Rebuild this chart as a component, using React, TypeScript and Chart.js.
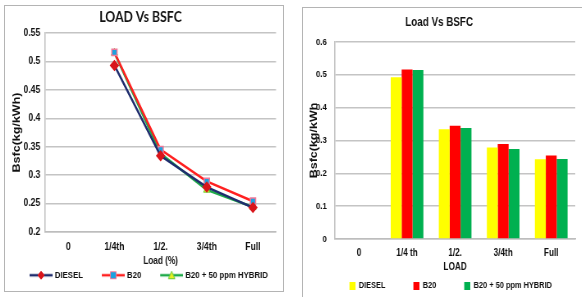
import React, { useEffect, useRef } from "react";
import { Chart, registerables } from "chart.js";

Chart.register(...registerables);

const lineCategories = ["0", "1/4th", "1/2.", "3/4th", "Full"];
const barCategories = ["0", "1/4 th", "1/2.", "3/4th", "Full"];
const seriesNames = ["DIESEL", "B20", "B20 + 50 ppm HYBRID"];
const diesel = [null, 0.493, 0.334, 0.279, 0.243];
const b20 = [null, 0.516, 0.345, 0.289, 0.254];
const hybrid = [null, 0.515, 0.338, 0.274, 0.244];
const lineTicks = { min: 0.2, max: 0.55, step: 0.05 };
const barTicks = { min: 0, max: 0.6, step: 0.1 };

const SX = 0.82; // horizontal squeeze of the reference picture
const FONT = "'Liberation Sans', Arial, sans-serif";
const TEXT = "#111";

const fmt = (v: any) => String(Math.round(Number(v) * 100) / 100);

// legend icon: transparent lead-in, then line + marker
function makeLineIcon(lineColor: string, marker: string, fill: string, stroke: string) {
  const c = document.createElement("canvas");
  c.width = 50;
  c.height = 10;
  const ctx = c.getContext("2d")!;
  ctx.strokeStyle = lineColor;
  ctx.lineWidth = 2.5;
  ctx.beginPath();
  ctx.moveTo(22, 5);
  ctx.lineTo(50, 5);
  ctx.stroke();
  ctx.fillStyle = fill;
  ctx.strokeStyle = stroke;
  ctx.lineWidth = 1;
  ctx.beginPath();
  const cx = 36;
  if (marker === "rectRot") {
    ctx.moveTo(cx, 1);
    ctx.lineTo(cx + 4, 5);
    ctx.lineTo(cx, 9);
    ctx.lineTo(cx - 4, 5);
    ctx.closePath();
  } else if (marker === "rect") {
    ctx.rect(cx - 3.5, 1.5, 7, 7);
  } else {
    ctx.moveTo(cx, 1);
    ctx.lineTo(cx + 4, 8.5);
    ctx.lineTo(cx - 4, 8.5);
    ctx.closePath();
  }
  ctx.fill();
  ctx.stroke();
  return c;
}

function makeBoxIcon(color: string) {
  const c = document.createElement("canvas");
  c.width = 35;
  c.height = 8;
  const ctx = c.getContext("2d")!;
  ctx.fillStyle = color;
  ctx.fillRect(28, 0, 7, 8);
  return c;
}

function LineChart() {
  const ref = useRef<HTMLCanvasElement>(null);
  useEffect(() => {
    const icons = [
      makeLineIcon("#1f2d6e", "rectRot", "#d9151b", "#d9151b"),
      makeLineIcon("#ff2020", "rect", "#1aa3e0", "#f07a9a"),
      makeLineIcon("#1faa4a", "triangle", "#e8f020", "#6acb3a"),
    ];
    const chart = new Chart(ref.current!, {
      type: "line",
      data: {
        labels: lineCategories,
        datasets: [
          {
            label: seriesNames[0],
            data: diesel,
            borderColor: "#1f2d6e",
            backgroundColor: "#d9151b",
            pointBackgroundColor: "#d9151b",
            pointBorderColor: "#d9151b",
            pointStyle: "rectRot",
            pointRadius: 4,
            borderWidth: 2.5,
            tension: 0,
          },
          {
            label: seriesNames[1],
            data: b20,
            borderColor: "#ff2020",
            backgroundColor: "#1aa3e0",
            pointBackgroundColor: "#1aa3e0",
            pointBorderColor: "#f07a9a",
            pointBorderWidth: 1.5,
            pointStyle: "rect",
            pointRadius: 4.5,
            borderWidth: 2.5,
            tension: 0,
          },
          {
            label: seriesNames[2],
            data: hybrid,
            borderColor: "#1faa4a",
            backgroundColor: "#e8f020",
            pointBackgroundColor: "#e8f020",
            pointBorderColor: "#6acb3a",
            pointBorderWidth: 1,
            pointStyle: "triangle",
            pointRadius: 4.5,
            borderWidth: 2.5,
            tension: 0,
          },
        ],
      },
      options: {
        responsive: false,
        animation: false,
        layout: { padding: { left: 0, right: 7.5, top: 2, bottom: 0 } },
        plugins: {
          title: {
            display: true,
            text: "LOAD Vs BSFC",
            color: TEXT,
            font: { family: "Lato, 'Liberation Sans', sans-serif", size: 15, weight: "bold" },
            padding: { top: 0, bottom: 7 },
          },
          legend: {
            position: "bottom",
            labels: {
              usePointStyle: true,
              pointStyleWidth: 46,
              color: TEXT,
              font: { family: FONT, size: 9.5, weight: "bold" },
              padding: 3,
              generateLabels: (ch: any) =>
                ch.data.datasets.map((ds: any, i: number) => ({
                  text: ds.label,
                  pointStyle: icons[i],
                  fillStyle: ds.backgroundColor,
                  strokeStyle: ds.borderColor,
                  lineWidth: 0,
                  hidden: false,
                  datasetIndex: i,
                  fontColor: TEXT,
                })),
            },
          },
          tooltip: { enabled: false },
        },
        scales: {
          x: {
            offset: true,
            afterFit: (s: any) => {
              s.height = 35.5;
            },
            grid: { display: false, drawTicks: false, offset: true },
            border: { color: "#bdbdbd", width: 1.5 },
            ticks: { color: TEXT, font: { family: FONT, size: 10.5, weight: "bold" }, padding: 9 },
            title: {
              display: true,
              text: "Load (%)",
              color: TEXT,
              font: { family: FONT, size: 10, weight: "bold" },
              padding: { top: 0, bottom: 0 },
            },
          },
          y: {
            min: lineTicks.min,
            max: lineTicks.max,
            afterFit: (s: any) => {
              s.width = 49;
            },
            ticks: {
              stepSize: lineTicks.step,
              callback: fmt,
              color: TEXT,
              font: { family: FONT, size: 10.5, weight: "bold" },
              padding: 6,
            },
            grid: { color: "#c4c4c4", lineWidth: 1.5, drawTicks: false },
            border: { color: "#bdbdbd", width: 1.5 },
            title: {
              display: true,
              text: "Bsfc(kg/kWh)",
              color: TEXT,
              font: { family: FONT, size: 12.5, weight: "bold" },
              padding: { top: 7, bottom: 0 },
            },
          },
        },
      },
    });
    return () => chart.destroy();
  }, []);
  return <canvas ref={ref} width={338} height={284} style={{ display: "block" }} />;
}

function BarChart() {
  const ref = useRef<HTMLCanvasElement>(null);
  useEffect(() => {
    const colors = ["#ffff00", "#ff0000", "#00b050"];
    const icons = colors.map(makeBoxIcon);
    const chart = new Chart(ref.current!, {
      type: "bar",
      data: {
        labels: barCategories,
        datasets: [
          { label: seriesNames[0], data: diesel, backgroundColor: colors[0] },
          { label: seriesNames[1], data: b20, backgroundColor: colors[1] },
          { label: seriesNames[2], data: hybrid, backgroundColor: colors[2] },
        ],
      },
      options: {
        responsive: false,
        animation: false,
        datasets: { bar: { categoryPercentage: 0.68, barPercentage: 1 } },
        layout: { padding: { left: 0, right: 8, top: 4, bottom: 0 } },
        plugins: {
          title: {
            display: true,
            text: "Load Vs BSFC",
            color: TEXT,
            font: { family: FONT, size: 12, weight: "bold" },
            padding: { top: 3, bottom: 12.6 },
          },
          legend: {
            position: "bottom",
            labels: {
              usePointStyle: true,
              pointStyleWidth: 35,
              color: TEXT,
              font: { family: FONT, size: 9, weight: "bold" },
              padding: 6,
              generateLabels: (ch: any) =>
                ch.data.datasets.map((ds: any, i: number) => ({
                  text: ds.label,
                  pointStyle: icons[i],
                  fillStyle: ds.backgroundColor,
                  strokeStyle: ds.backgroundColor,
                  lineWidth: 0,
                  hidden: false,
                  datasetIndex: i,
                  fontColor: TEXT,
                })),
            },
          },
          tooltip: { enabled: false },
        },
        scales: {
          x: {
            afterFit: (s: any) => {
              s.height = 36;
            },
            grid: { display: false, drawTicks: false },
            border: { color: "#bdbdbd", width: 1.5 },
            ticks: { color: TEXT, font: { family: FONT, size: 10, weight: "bold" }, padding: 8 },
            title: {
              display: true,
              text: "LOAD",
              color: TEXT,
              font: { family: FONT, size: 10, weight: "bold" },
              padding: { top: 0, bottom: 2 },
            },
          },
          y: {
            min: barTicks.min,
            max: barTicks.max,
            afterFit: (s: any) => {
              s.width = 39;
            },
            ticks: {
              stepSize: barTicks.step,
              callback: fmt,
              color: TEXT,
              font: { family: FONT, size: 9.5, weight: "bold" },
              padding: 10,
            },
            grid: { color: "#c4c4c4", lineWidth: 1.5, drawTicks: false },
            border: { color: "#bdbdbd", width: 1.5 },
            title: {
              display: true,
              text: "Bsfc(kg/kWh",
              color: TEXT,
              font: { family: FONT, size: 12.5, weight: "bold" },
              padding: { top: 6, bottom: 0 },
            },
          },
        },
      },
    });
    return () => chart.destroy();
  }, []);
  return <canvas ref={ref} width={340} height={292} style={{ display: "block" }} />;
}

export default function App() {
  useEffect(() => {
    document.body.style.margin = "0";
    document.body.style.background = "#fff";
  }, []);
  const squeeze = (left: number, top: number): React.CSSProperties => ({
    position: "absolute",
    left,
    top,
    transform: `scaleX(${SX})`,
    transformOrigin: "0 0",
  });
  return (
    <div style={{ position: "relative", width: 582, height: 297, overflow: "hidden", background: "#fff" }}>
      <div
        style={{
          position: "absolute",
          left: 4,
          top: 5,
          width: 280,
          height: 287,
          border: "1.5px solid #b4b4b4",
          boxSizing: "border-box",
        }}
      />
      <div
        style={{
          position: "absolute",
          left: 302,
          top: 7,
          width: 300,
          height: 300,
          border: "1.5px solid #b4b4b4",
          boxSizing: "border-box",
        }}
      />
      <div style={squeeze(5, 6)}>
        <LineChart />
      </div>
      <div style={squeeze(303, 8)}>
        <BarChart />
      </div>
    </div>
  );
}
